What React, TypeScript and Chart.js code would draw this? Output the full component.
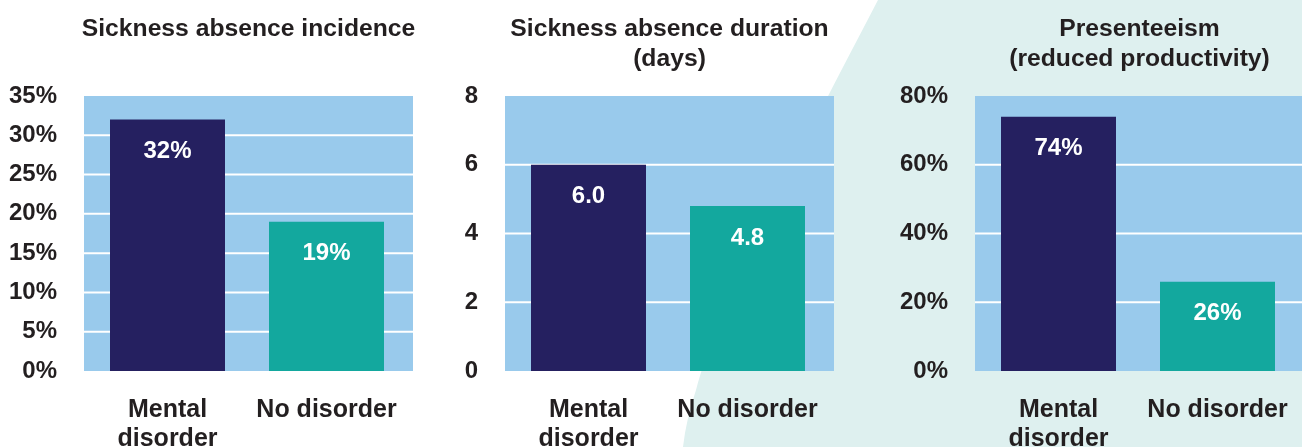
import React, { useEffect, useRef } from "react";
import { Chart, registerables } from "chart.js";

Chart.register(...registerables);

// ---- data ----
const categories: (string | string[])[] = [["Mental", "disorder"], "No disorder"];

const incidenceTitle = ["Sickness absence incidence"];
const incidenceValues = [32, 19];
const incidenceTickMax = 35;
const incidenceTickStep = 5;

const durationTitle = ["Sickness absence duration", "(days)"];
const durationValues = [6.0, 4.8];
const durationTickMax = 8;
const durationTickStep = 2;

const presenteeismTitle = ["Presenteeism", "(reduced productivity)"];
const presenteeismValues = [74, 26];
const presenteeismTickMax = 80;
const presenteeismTickStep = 20;

// ---- styles ----
const FONT = "'Liberation Sans', Arial, Helvetica, sans-serif";
const TEXT = "#231f20";
const NAVY = "#252060";
const TEAL = "#13a89e";
const PLOT_BG = "#99caec";
const SHAPE_BG = "#def0ef";

type PanelCfg = {
  title: string[];
  values: number[];
  max: number;
  step: number;
  suffix: string;
  decimals: number;
  left: number;
  width: number;
  yAxisWidth: number;
  padRight: number;
};

const plotBgPlugin = {
  id: "plotBg",
  beforeDatasetsDraw(chart: any) {
    const { ctx, chartArea } = chart;
    const y = chart.scales.y;
    const l = chartArea.left - 4;
    const r = chartArea.right + 7;
    ctx.save();
    ctx.fillStyle = PLOT_BG;
    ctx.fillRect(l, chartArea.top, r - l, chartArea.bottom - chartArea.top);
    ctx.strokeStyle = "#ffffff";
    ctx.lineWidth = 2;
    y.ticks.forEach((t: any) => {
      if (t.value > y.min && t.value < y.max) {
        const py = y.getPixelForValue(t.value);
        ctx.beginPath();
        ctx.moveTo(l, py);
        ctx.lineTo(r, py);
        ctx.stroke();
      }
    });
    ctx.restore();
  },
};

const panelTitlePlugin = {
  id: "panelTitle",
  afterDraw(chart: any) {
    const { ctx, chartArea } = chart;
    const opts = chart.options.plugins.panelTitle;
    const cx = (chartArea.left - 4 + chartArea.right + 7) / 2;
    ctx.save();
    ctx.fillStyle = TEXT;
    ctx.font = `bold 24.7px ${FONT}`;
    ctx.textAlign = "center";
    ctx.textBaseline = "middle";
    (opts.text as string[]).forEach((line, i) => {
      ctx.fillText(line, cx, chartArea.top - 67 + i * 30);
    });
    ctx.restore();
  },
};

const valueLabelPlugin = {
  id: "valueLabels",
  afterDatasetsDraw(chart: any) {
    const { ctx } = chart;
    const cfg = chart.options.plugins.valueLabels;
    const meta = chart.getDatasetMeta(0);
    ctx.save();
    ctx.fillStyle = "#ffffff";
    ctx.font = `bold 24px ${FONT}`;
    ctx.textAlign = "center";
    ctx.textBaseline = "middle";
    meta.data.forEach((bar: any, i: number) => {
      const v = chart.data.datasets[0].data[i] as number;
      ctx.fillText(v.toFixed(cfg.decimals) + cfg.suffix, bar.x, bar.y + 32);
    });
    ctx.restore();
  },
};

function makeChart(canvas: HTMLCanvasElement, cfg: PanelCfg) {
  return new Chart(canvas, {
    type: "bar",
    data: {
      labels: categories as any,
      datasets: [
        {
          data: cfg.values,
          backgroundColor: [NAVY, TEAL],
          borderWidth: 0,
          categoryPercentage: 1,
          barPercentage: 115 / 159,
        },
      ],
    },
    plugins: [plotBgPlugin, valueLabelPlugin, panelTitlePlugin],
    options: {
      animation: false,
      responsive: false,
      devicePixelRatio: 1,
      layout: { padding: { left: 0, right: cfg.padRight, top: 96, bottom: 0 } },
      plugins: {
        legend: { display: false },
        tooltip: { enabled: false },
        title: { display: false },
        panelTitle: { text: cfg.title },
        valueLabels: { suffix: cfg.suffix, decimals: cfg.decimals },
      } as any,
      scales: {
        x: {
          grid: { display: false, drawTicks: false },
          border: { display: false },
          ticks: {
            color: TEXT,
            font: { family: FONT, size: 25, weight: "bold", lineHeight: 1.16 },
            padding: 25,
            maxRotation: 0,
            autoSkip: false,
          },
          afterFit: (s: any) => {
            s.height = 76;
          },
        },
        y: {
          min: 0,
          max: cfg.max,
          grid: { display: false, drawTicks: false },
          border: { display: false },
          ticks: {
            stepSize: cfg.step,
            color: TEXT,
            font: { family: FONT, size: 24, weight: "bold" },
            padding: 31,
            callback: (v: any) => `${v}${cfg.suffix}`,
          },
          afterFit: (s: any) => {
            s.width = cfg.yAxisWidth;
          },
        },
      },
    },
  });
}

const panels: PanelCfg[] = [
  {
    title: incidenceTitle,
    values: incidenceValues,
    max: incidenceTickMax,
    step: incidenceTickStep,
    suffix: "%",
    decimals: 0,
    left: 0,
    width: 440,
    yAxisWidth: 88,
    padRight: 34,
  },
  {
    title: durationTitle,
    values: durationValues,
    max: durationTickMax,
    step: durationTickStep,
    suffix: "",
    decimals: 1,
    left: 440,
    width: 430,
    yAxisWidth: 69,
    padRight: 43,
  },
  {
    title: presenteeismTitle,
    values: presenteeismValues,
    max: presenteeismTickMax,
    step: presenteeismTickStep,
    suffix: "%",
    decimals: 0,
    left: 870,
    width: 472,
    yAxisWidth: 109,
    padRight: 45,
  },
];

export default function App() {
  const refs = [
    useRef<HTMLCanvasElement>(null),
    useRef<HTMLCanvasElement>(null),
    useRef<HTMLCanvasElement>(null),
  ];

  useEffect(() => {
    const charts = panels.map((p, i) => makeChart(refs[i].current!, p));
    return () => charts.forEach((c) => c.destroy());
  }, []);

  return (
    <div
      style={{
        position: "fixed",
        left: 0,
        top: 0,
        width: 1302,
        height: 447,
        overflow: "hidden",
        background: "#ffffff",
      }}
    >
      <svg
        width={1302}
        height={447}
        viewBox="0 0 1302 447"
        style={{ position: "absolute", left: 0, top: 0 }}
      >
        <path
          d="M 878 0 C 800 150, 720 300, 696 390 Q 686 420, 683 447 L 1302 447 L 1302 0 Z"
          fill={SHAPE_BG}
        />
      </svg>
      {panels.map((p, i) => (
        <canvas
          key={i}
          ref={refs[i]}
          width={p.width}
          height={447}
          style={{ position: "absolute", left: p.left, top: 0, width: p.width, height: 447 }}
        />
      ))}
    </div>
  );
}
